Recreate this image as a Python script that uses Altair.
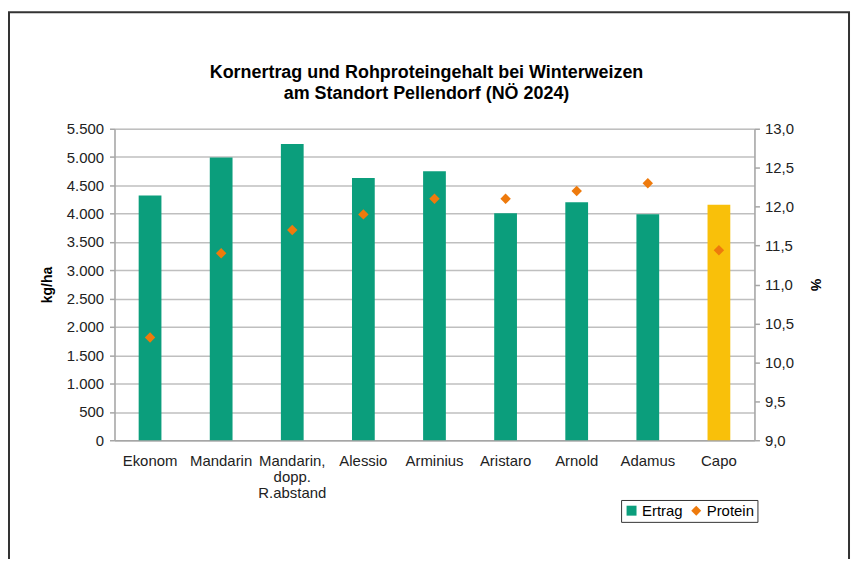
import altair as alt
import pandas as pd

sorten = ["Ekonom", "Mandarin", "Mandarin, dopp. R.abstand", "Alessio", "Arminius",
          "Aristaro", "Arnold", "Adamus", "Capo"]
ertrag = [4320, 4990, 5230, 4630, 4750, 4010, 4200, 3990, 4160]
protein = [10.32, 11.40, 11.70, 11.90, 12.10, 12.10, 12.20, 12.30, 11.44]
farben = ["#0B9E7C"] * 8 + ["#F9C00A"]

GREEN = "#0B9E7C"
ORANGE = "#EE7A0C"
FONT = "Liberation Sans"
FS = 15

df = pd.DataFrame({"Sorte": sorten, "Ertrag": ertrag, "Protein": protein,
                   "farbe": farben, "serie": ["Protein"] * len(sorten)})

W, H = 643, 313

xenc = alt.X("Sorte:N", sort=sorten, title=None,
             scale=alt.Scale(paddingInner=0.68, paddingOuter=0.34),
             axis=alt.Axis(labelExpr="split(datum.label, ' ')", labelAngle=0,
                           labelFontSize=FS, labelFont=FONT, labelColor="#222",
                           labelPadding=13, labelLineHeight=16.5,
                           ticks=False, domainColor="#A6A6A6", domainWidth=1.5))

bars = alt.Chart(df).mark_bar().encode(
    x=xenc,
    y=alt.Y("Ertrag:Q", title="kg/ha",
            scale=alt.Scale(domain=[0, 5500], nice=False),
            axis=alt.Axis(values=list(range(0, 5501, 500)), orient="left",
                          labelExpr="replace(format(datum.value, ',.0f'), ',', '.')",
                          labelFontSize=FS, labelFont=FONT, labelColor="#222",
                          titleFont=FONT, titleFontSize=14, titleFontWeight="bold",
                          titleColor="#000", titlePadding=12,
                          grid=True, gridColor="#BFBFBF", gridWidth=1.5,
                          tickColor="#A6A6A6", tickSize=5, tickWidth=1.5,
                          domainColor="#A6A6A6", domainWidth=1.5, labelPadding=6)),
    color=alt.Color("farbe:N", scale=None),
)

points = alt.Chart(df).mark_point(filled=True, opacity=1, size=110).encode(
    x=alt.X("Sorte:N", sort=sorten),
    y=alt.Y("Protein:Q", title="%",
            scale=alt.Scale(domain=[9, 13], nice=False, zero=False),
            axis=alt.Axis(values=[9, 9.5, 10, 10.5, 11, 11.5, 12, 12.5, 13], orient="right",
                          labelExpr="replace(format(datum.value, '.1f'), '.', ',')",
                          labelFontSize=FS, labelFont=FONT, labelColor="#222",
                          titleFont=FONT, titleFontSize=14, titleFontWeight="bold",
                          titleColor="#000", titlePadding=14,
                          grid=False, tickColor="#A6A6A6", tickSize=5, tickWidth=1.5,
                          domainColor="#A6A6A6", domainWidth=1.5, labelPadding=5)),
    color=alt.Color("serie:N",
                    scale=alt.Scale(domain=["Ertrag", "Protein"], range=[GREEN, ORANGE]),
                    legend=alt.Legend(title=None, orient="none", legendX=509, legendY=373,
                                      direction="horizontal", strokeColor="#333",
                                      padding=3, labelFontSize=FS, labelFont=FONT,
                                      labelColor="#000", symbolSize=100,
                                      columnPadding=6, symbolOffset=0, labelOffset=3)),
    shape=alt.Shape("serie:N",
                    scale=alt.Scale(domain=["Ertrag", "Protein"], range=["square", "diamond"])),
)

frame = alt.Chart(pd.DataFrame({"a": [0]})).mark_rect(
    fill=None, stroke="#333", strokeWidth=2
).encode(x=alt.value(-106), x2=alt.value(738), y=alt.value(-117), y2=alt.value(480))

chart = alt.layer(frame, bars, points).resolve_scale(y="independent").properties(
    width=W, height=H,
    title=alt.TitleParams(
        text=["Kornertrag und Rohproteingehalt bei Winterweizen",
              "am Standort Pellendorf (NÖ 2024)"],
        font=FONT, fontSize=18, fontWeight="bold", color="#000",
        anchor="middle", frame="group", dx=-8, offset=0, dy=92, lineHeight=21),
    autosize=alt.AutoSizeParams(type="none"),
    padding={"left": 107, "top": 120, "right": 98, "bottom": 118},
).configure_view(stroke=None).configure(background="white")

chart.save("out.html", embed_options={"renderer": "svg", "actions": False})
